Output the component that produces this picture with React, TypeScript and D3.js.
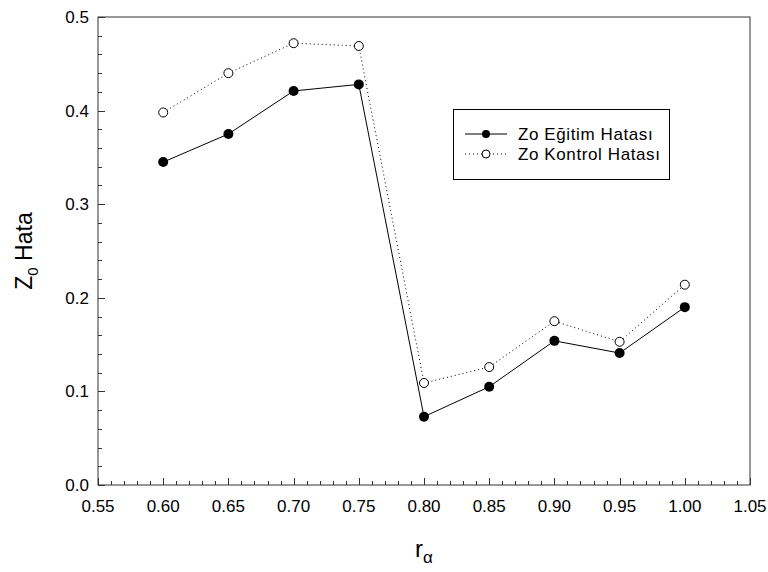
import React from "react";
import * as d3 from "d3";

// r_alpha values on the x axis
const rAlpha = [0.6, 0.65, 0.7, 0.75, 0.8, 0.85, 0.9, 0.95, 1.0];
// Training error (filled markers)
const egitimHatasi = [0.345, 0.375, 0.421, 0.428, 0.073, 0.105, 0.154, 0.141, 0.19];
// Validation error (open markers)
const kontrolHatasi = [0.398, 0.44, 0.472, 0.469, 0.109, 0.126, 0.175, 0.153, 0.214];

const xMajorTicks = [0.55, 0.6, 0.65, 0.7, 0.75, 0.8, 0.85, 0.9, 0.95, 1.0, 1.05];
const yMajorTicks = [0, 0.1, 0.2, 0.3, 0.4, 0.5];

const W = 768;
const H = 572;
const FONT = "Arial, 'Liberation Sans', sans-serif";

export default function App() {
  const left = 98, right = 750, top = 17, bottom = 485;
  const x = d3.scaleLinear().domain([0.55, 1.05]).range([left, right]);
  const y = d3.scaleLinear().domain([0, 0.5]).range([bottom, top]);

  const line = d3
    .line<number>()
    .x((_, i) => x(rAlpha[i]))
    .y((d) => y(d));

  const xMinor = d3.range(0, 51).map((i) => 0.55 + i * 0.01);
  const yMinor = d3.range(0, 26).map((i) => i * 0.02);

  const isMajor = (v: number, step: number, base: number) =>
    Math.abs(((v - base) / step) - Math.round((v - base) / step)) < 1e-6;

  return (
    <svg
      width={W}
      height={H}
      style={{ position: "absolute", left: 0, top: 0, background: "#fff" }}
      fontFamily={FONT}
    >
      {/* frame */}
      <rect x={left} y={top} width={right - left} height={bottom - top} fill="none" stroke="#333" strokeWidth={1} />

      {/* x ticks (inward) */}
      {xMinor.map((v, i) => {
        const major = isMajor(v, 0.05, 0.55);
        const px = Math.round(x(v)) + 0.5;
        return (
          <line key={"xt" + i} x1={px} x2={px} y1={bottom} y2={bottom - (major ? 7 : 4)} stroke="#333" strokeWidth={1} />
        );
      })}
      {xMajorTicks.map((v) => (
        <text key={"xl" + v} x={x(v)} y={512} textAnchor="middle" fontSize={17} fill="#000">
          {v.toFixed(2)}
        </text>
      ))}

      {/* y ticks (inward) */}
      {yMinor.map((v, i) => {
        const major = isMajor(v, 0.1, 0);
        const py = Math.round(y(v)) + 0.5;
        return (
          <line key={"yt" + i} x1={left} x2={left + (major ? 7 : 4)} y1={py} y2={py} stroke="#333" strokeWidth={1} />
        );
      })}
      {yMajorTicks.map((v) => (
        <text key={"yl" + v} x={89} y={y(v) + 6} textAnchor="end" fontSize={17} fill="#000">
          {v.toFixed(1)}
        </text>
      ))}

      {/* series lines */}
      <path d={line(kontrolHatasi) || ""} fill="none" stroke="#000" strokeWidth={1} strokeDasharray="1,3" />
      <path d={line(egitimHatasi) || ""} fill="none" stroke="#000" strokeWidth={1} />

      {/* markers */}
      {kontrolHatasi.map((v, i) => (
        <circle key={"k" + i} cx={x(rAlpha[i])} cy={y(v)} r={4.5} fill="#fff" stroke="#000" strokeWidth={1} />
      ))}
      {egitimHatasi.map((v, i) => (
        <circle key={"e" + i} cx={x(rAlpha[i])} cy={y(v)} r={5} fill="#000" />
      ))}

      {/* legend */}
      <g>
        <rect x={453.5} y={109.5} width={216} height={70} fill="#fff" stroke="#000" strokeWidth={1} />
        <line x1={465} x2={507} y1={134} y2={134} stroke="#000" strokeWidth={1} />
        <circle cx={486} cy={134} r={4} fill="#000" />
        <text x={518} y={140} fontSize={17} letterSpacing={0.6} fill="#000">Zo Eğitim Hatası</text>
        <line x1={465} x2={507} y1={154} y2={154} stroke="#000" strokeWidth={1} strokeDasharray="1,3" />
        <circle cx={486} cy={154} r={4} fill="#fff" stroke="#000" strokeWidth={1} />
        <text x={518} y={160} fontSize={17} letterSpacing={0.6} fill="#000">Zo Kontrol Hatası</text>
      </g>

      {/* axis titles */}
      <text transform="translate(32,251) rotate(-90)" textAnchor="middle" fontSize={23} fill="#000">
        Z<tspan fontSize={15} dy={6}>0</tspan>
        <tspan dy={-6}> Hata</tspan>
      </text>
      <text x={424} y={557} textAnchor="middle" fontSize={24} fill="#000">
        r<tspan fontSize={17} dy={6}>α</tspan>
      </text>
    </svg>
  );
}
